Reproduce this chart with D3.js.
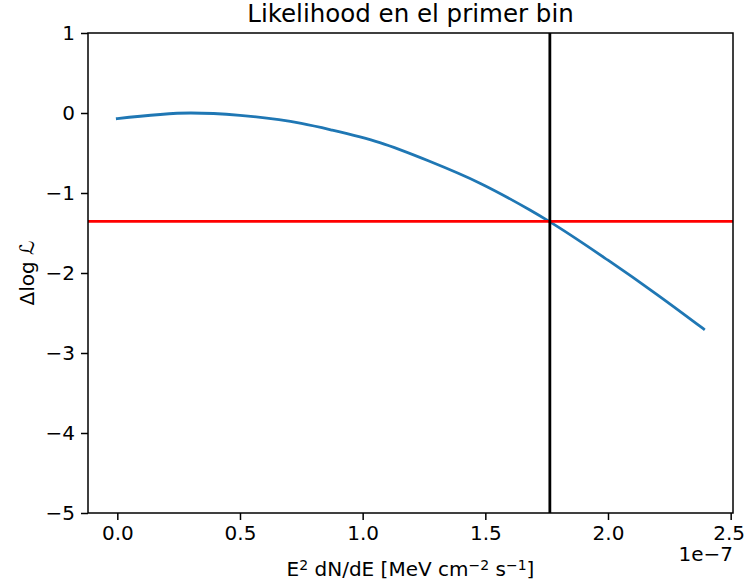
<!DOCTYPE html>
<html>
<head>
<meta charset="utf-8">
<script src="https://cdn.jsdelivr.net/npm/d3@7"></script>
<style>
    body { margin: 0; background: #fff; }
    svg { font-family: 'DejaVu Sans', sans-serif; }
</style>
</head>
<body>
<div id="chart"></div>
<script>
// Likelihood scan values (flux in units of 1e-7 MeV cm^-2 s^-1)
const fluxValues = [0.0, 0.3, 0.5, 0.75, 0.87, 1.07, 1.27, 1.48, 1.68, 1.76, 2.0, 2.2, 2.39];
const dlogLValues = [-0.07, 0.0, -0.03, -0.13, -0.21, -0.37, -0.60, -0.88, -1.21, -1.355, -1.84, -2.27, -2.70];

// Reference lines
const upperLimitFlux = 1.763;
const thresholdDlogL = -1.355;

const xTicks = [0.0, 0.5, 1.0, 1.5, 2.0, 2.5];
const yTicks = [1, 0, -1, -2, -3, -4, -5];

const config = {
    width: 745,
    height: 586,
    margin: { top: 33, right: 12, bottom: 73, left: 88 },
    title: 'Likelihood en el primer bin',
    tickFont: 20,
    titleFont: 24.5
};

const width = config.width - config.margin.left - config.margin.right;
const height = config.height - config.margin.top - config.margin.bottom;

const svg = d3.select('#chart')
    .append('svg')
    .attr('width', config.width)
    .attr('height', config.height);

const g = svg.append('g')
    .attr('transform', `translate(${config.margin.left},${config.margin.top})`);

// matplotlib style 5% padding on x
const xMin = d3.min(fluxValues), xMax = d3.max(fluxValues);
const pad = (xMax - xMin) * 0.05;
const xScale = d3.scaleLinear()
    .domain([xMin - pad, xMax + pad])
    .range([0, width]);

const yScale = d3.scaleLinear()
    .domain([-5, 1])
    .range([height, 0]);

const fmtMinus = s => s.replace('-', '\u2212');

// Axes
const xAxis = g.append('g')
    .attr('transform', `translate(0,${height})`)
    .call(d3.axisBottom(xScale).tickValues(xTicks).tickFormat(d3.format('.1f'))
        .tickSize(7).tickPadding(6));

const yAxis = g.append('g')
    .call(d3.axisLeft(yScale).tickValues(yTicks).tickFormat(d => fmtMinus(String(d)))
        .tickSize(7).tickPadding(6));

[xAxis, yAxis].forEach(ax => {
    ax.select('.domain').remove();
    ax.selectAll('line').attr('stroke', '#000').attr('stroke-width', 1.5);
    ax.selectAll('text').attr('fill', '#000').style('font-size', config.tickFont + 'px')
        .style('font-family', "'DejaVu Sans', sans-serif");
});

// keep the last x label inside the page edge
xAxis.selectAll('.tick text').filter(d => d === 2.5).attr('dx', '-2');

// Likelihood curve
const line = d3.line()
    .x((d, i) => xScale(fluxValues[i]))
    .y(d => yScale(d))
    .curve(d3.curveMonotoneX);

g.append('path')
    .datum(dlogLValues)
    .attr('fill', 'none')
    .attr('stroke', '#1f77b4')
    .attr('stroke-width', 2.8)
    .attr('stroke-linejoin', 'round')
    .attr('stroke-linecap', 'square')
    .attr('d', line);

// Horizontal threshold line
g.append('line')
    .attr('x1', 0).attr('x2', width)
    .attr('y1', yScale(thresholdDlogL)).attr('y2', yScale(thresholdDlogL))
    .attr('stroke', '#ff0000')
    .attr('stroke-width', 2.8);

// Vertical upper-limit line
g.append('line')
    .attr('x1', xScale(upperLimitFlux)).attr('x2', xScale(upperLimitFlux))
    .attr('y1', 0).attr('y2', height)
    .attr('stroke', '#000')
    .attr('stroke-width', 2.8);

// Frame
g.append('rect')
    .attr('width', width).attr('height', height)
    .attr('fill', 'none')
    .attr('stroke', '#000')
    .attr('stroke-width', 1.5);

// Title
g.append('text')
    .attr('x', width / 2)
    .attr('y', -11)
    .attr('text-anchor', 'middle')
    .style('font-size', config.titleFont + 'px')
    .text(config.title);

// X label with superscripts
const sup = config.tickFont * 0.7 + 'px';
const xLabel = g.append('text')
    .attr('x', width / 2)
    .attr('y', height + 63)
    .attr('text-anchor', 'middle')
    .style('font-size', config.tickFont + 'px');
xLabel.append('tspan').text('E');
xLabel.append('tspan').attr('baseline-shift', '45%').style('font-size', sup).text('2');
xLabel.append('tspan').text(' dN/dE [MeV cm');
xLabel.append('tspan').attr('baseline-shift', '45%').style('font-size', sup).text('\u22122');
xLabel.append('tspan').text(' s');
xLabel.append('tspan').attr('baseline-shift', '45%').style('font-size', sup).text('\u22121');
xLabel.append('tspan').text(']');

// Offset text
g.append('text')
    .attr('x', width)
    .attr('y', height + 48)
    .attr('text-anchor', 'end')
    .style('font-size', config.tickFont + 'px')
    .text('1e\u22127');

// Y label
g.append('text')
    .attr('transform', `translate(${-54},${height / 2}) rotate(-90)`)
    .attr('text-anchor', 'middle')
    .style('font-size', config.tickFont + 'px')
    .text('\u0394log \u2112');
</script>
</body>
</html>
